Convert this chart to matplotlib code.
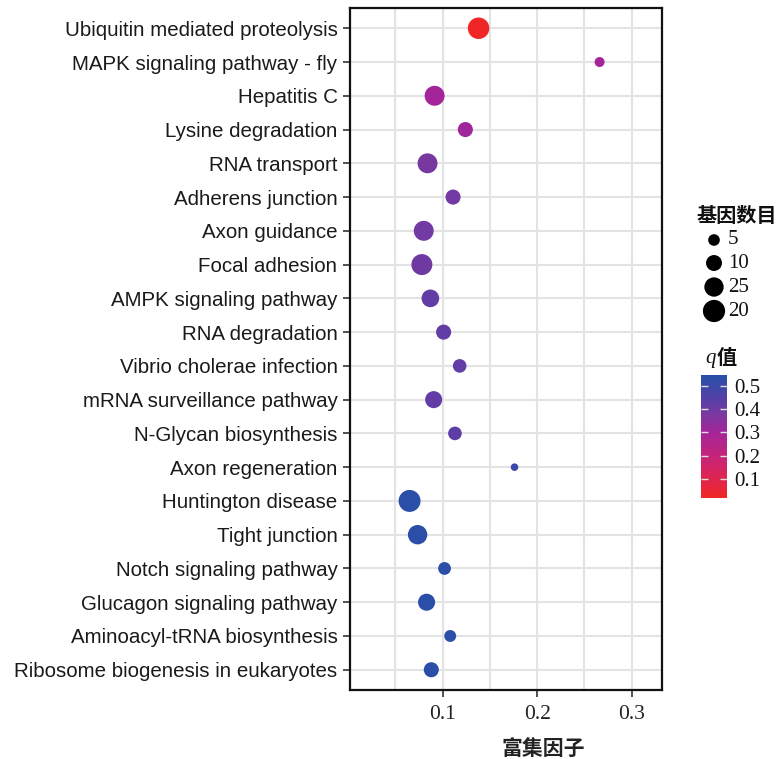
import matplotlib
matplotlib.use("Agg")
import matplotlib.pyplot as plt
import numpy as np
from matplotlib.colors import LinearSegmentedColormap, Normalize
from matplotlib.cm import ScalarMappable

pathways = [
    "Ubiquitin mediated proteolysis",
    "MAPK signaling pathway - fly",
    "Hepatitis C",
    "Lysine degradation",
    "RNA transport",
    "Adherens junction",
    "Axon guidance",
    "Focal adhesion",
    "AMPK signaling pathway",
    "RNA degradation",
    "Vibrio cholerae infection",
    "mRNA surveillance pathway",
    "N-Glycan biosynthesis",
    "Axon regeneration",
    "Huntington disease",
    "Tight junction",
    "Notch signaling pathway",
    "Glucagon signaling pathway",
    "Aminoacyl-tRNA biosynthesis",
    "Ribosome biogenesis in eukaryotes",
]
rich_factor = [0.138, 0.266, 0.0915, 0.124, 0.084, 0.111, 0.080, 0.078, 0.087, 0.101,
               0.118, 0.0905, 0.113, 0.176, 0.065, 0.0735, 0.102, 0.083, 0.108, 0.088]
gene_count = [21, 4, 18, 10, 18, 10, 18, 20, 14, 10,
              8, 13, 8, 2, 22, 17, 7, 13, 6, 10]
q_value = [0.02, 0.30, 0.30, 0.31, 0.38, 0.39, 0.39, 0.40, 0.42, 0.42,
           0.42, 0.42, 0.43, 0.50, 0.54, 0.54, 0.54, 0.54, 0.54, 0.54]

x_ticks = [0.1, 0.2, 0.3]
x_tick_labels = ["0.1", "0.2", "0.3"]
size_legend_values = [5, 10, 15, 20]
size_legend_labels = ["5", "10", "25", "20"]
cbar_ticks = [0.1, 0.2, 0.3, 0.4, 0.5]
cbar_tick_labels = ["0.1", "0.2", "0.3", "0.4", "0.5"]
q_range = (0.018, 0.547)


def size_of(n):
    return 7.5 + 11.04 * np.asarray(n, dtype=float)


cmap = LinearSegmentedColormap.from_list(
    "rb", [(0.0, "#F02626"), (0.25, "#D42468"), (0.53, "#A5259A"), (0.68, "#7A38A0"),
           (0.78, "#5C3EA6"), (0.92, "#3A4AA8"), (1.0, "#2850A8")])
norm = Normalize(*q_range)

fig = plt.figure(figsize=(7.77, 7.59), dpi=100)
W, H = 777, 759
ax = fig.add_axes([350 / W, 1 - 690 / H, 312 / W, 682 / H])

ypos = np.arange(len(pathways))
ax.scatter(rich_factor, ypos, s=size_of(gene_count), c=q_value, cmap=cmap, norm=norm,
           linewidths=0, zorder=3)

ax.set_xlim(0.002, 0.332)
ax.set_ylim(len(pathways) - 0.4, -0.6)
ax.set_yticks(ypos)
ax.set_yticklabels(pathways, fontfamily="Liberation Sans", fontsize=14.8, color="#1a1a1a")
ax.set_xticks(x_ticks)
ax.set_xticklabels(x_tick_labels, fontfamily="Liberation Serif", fontsize=15.5,
                   color="#222222")
ax.set_xticks([0.05, 0.15, 0.25], minor=True)
ax.tick_params(axis="y", which="major", length=5, width=1.2, color="#333333", pad=4)
ax.tick_params(axis="x", which="major", length=5, width=1.2, color="#333333", pad=6)
ax.tick_params(axis="x", which="minor", length=0)
ax.grid(True, which="both", color="#E3E3E3", linewidth=1.5, zorder=0)
ax.set_axisbelow(True)
for sp in ax.spines.values():
    sp.set_linewidth(1.6)
    sp.set_color("#111111")

fig.text(543 / W, 1 - 748 / H, "富集因子", fontfamily=["Noto Sans CJK SC", "DejaVu Sans"],
         fontsize=15, fontweight="bold", ha="center", va="center", color="#222222")

# size legend
lax = fig.add_axes([0, 0, 1, 1], facecolor="none")
lax.set_xlim(0, W)
lax.set_ylim(H, 0)
lax.axis("off")
lax.text(697, 215, "基因数目", fontfamily=["Noto Sans CJK SC", "DejaVu Sans"], fontsize=14.5,
         fontweight="bold", ha="left", va="center", color="#111111")
leg_y = [240, 263, 287, 311]
lax.scatter([714] * 4, leg_y, s=size_of(size_legend_values) * 1.12, c="black", linewidths=0)
for yy, lab in zip(leg_y, size_legend_labels):
    lax.text(728, yy, lab, fontfamily="Liberation Serif", fontsize=15, ha="left", va="center",
             color="#111111")
lax.text(711, 358, "q", fontfamily="Liberation Serif", fontstyle="italic", fontsize=15,
         ha="center", va="center", color="#111111")
lax.text(717, 357, "值", fontfamily=["Noto Sans CJK SC", "DejaVu Sans"], fontsize=14.5,
         fontweight="bold", ha="left", va="center", color="#111111")

# colorbar
cax = fig.add_axes([701 / W, 1 - 498 / H, 26 / W, 123 / H])
sm = ScalarMappable(norm=norm, cmap=cmap)
cb = fig.colorbar(sm, cax=cax, ticks=cbar_ticks)
cb.outline.set_visible(False)
cb.ax.set_yticklabels(cbar_tick_labels, fontfamily="Liberation Serif", fontsize=15,
                      color="#111111")
cb.ax.tick_params(axis="y", direction="in", length=5, width=1, color="#dddddd",
                  left=True, right=True, pad=5)

fig.savefig("out.png", dpi=100)
